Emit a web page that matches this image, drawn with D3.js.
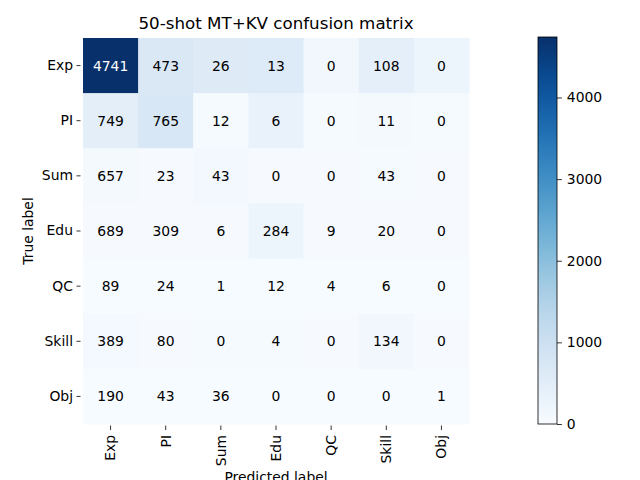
<!DOCTYPE html>
<html>
<head>
<meta charset="utf-8">
<script src="https://cdn.jsdelivr.net/npm/d3@7"></script>
<style>
  body { margin: 0; background: #fff; }
  text { font-family: "DejaVu Sans", sans-serif; fill: #000; }
</style>
</head>
<body>
<div id="chart"></div>
<script>
const labels = ["Exp", "PI", "Sum", "Edu", "QC", "Skill", "Obj"];

// counts written in the cells
const counts = [
  [4741, 473, 26, 13, 0, 108, 0],
  [749, 765, 12, 6, 0, 11, 0],
  [657, 23, 43, 0, 0, 43, 0],
  [689, 309, 6, 284, 9, 20, 0],
  [89, 24, 1, 12, 4, 6, 0],
  [389, 80, 0, 4, 0, 134, 0],
  [190, 43, 36, 0, 0, 0, 1]
];

// shade of each cell
const shades = [
  [4741, 700, 600, 620, 140, 430, 250],
  [470, 750, 50, 330, 50, 60, 40],
  [70, 20, 110, 20, 20, 40, 30],
  [20, 20, 20, 250, 20, 20, 20],
  [15, 15, 15, 15, 15, 15, 15],
  [90, 20, 50, 50, 20, 140, 20],
  [15, 15, 15, 15, 15, 15, 15]
];

const cbarTicks = [0, 1000, 2000, 3000, 4000];
const vmax = 4741;

const svg = d3.select("#chart")
  .append("svg")
  .attr("width", 640)
  .attr("height", 480);

const mLeft = 83, mTop = 38, size = 386;

const x = d3.scaleBand().domain(labels).range([mLeft, mLeft + size]);
const y = d3.scaleBand().domain(labels).range([mTop, mTop + size]);
const color = d3.scaleSequential(d3.interpolateBlues).domain([0, vmax]);

const cells = [];
counts.forEach((row, i) => row.forEach((v, j) => {
  cells.push({ t: labels[i], p: labels[j], v: v, s: shades[i][j] });
}));

svg.selectAll("rect.cell")
  .data(cells)
  .enter()
  .append("rect")
  .attr("class", "cell")
  .attr("x", d => x(d.p))
  .attr("y", d => y(d.t))
  .attr("width", x.bandwidth() + 0.5)
  .attr("height", y.bandwidth() + 0.5)
  .attr("fill", d => color(d.s));

svg.selectAll("text.val")
  .data(cells)
  .enter()
  .append("text")
  .attr("class", "val")
  .attr("x", d => x(d.p) + x.bandwidth() / 2)
  .attr("y", d => y(d.t) + y.bandwidth() / 2)
  .attr("text-anchor", "middle")
  .attr("dominant-baseline", "central")
  .style("font-size", "13.9px")
  .style("fill", d => d.s > vmax / 2 ? "#fff" : "#000")
  .text(d => d.v);

// axes
const yAxis = svg.append("g")
  .attr("transform", `translate(${mLeft - 2.5},0)`)
  .call(d3.axisLeft(y).tickSize(4).tickPadding(3.5));
yAxis.select(".domain").remove();
yAxis.selectAll("text").style("font-size", "13.9px").style("font-family", "DejaVu Sans");
yAxis.selectAll("line").attr("stroke", "#000").attr("stroke-width", 0.8);

const xAxis = svg.append("g")
  .attr("transform", `translate(0,${mTop + size + 1.5})`)
  .call(d3.axisBottom(x).tickSize(4.5).tickPadding(3.5));
xAxis.select(".domain").remove();
xAxis.selectAll("line").attr("stroke", "#000").attr("stroke-width", 0.8);
xAxis.selectAll("text")
  .style("font-size", "13.9px")
  .style("font-family", "DejaVu Sans")
  .attr("transform", "rotate(-90)")
  .attr("text-anchor", "end")
  .attr("dy", "0.35em")
  .attr("x", -9.5)
  .attr("y", 0);

svg.append("text")
  .attr("x", mLeft + size / 2)
  .attr("y", 29)
  .attr("text-anchor", "middle")
  .style("font-size", "16.7px")
  .text("50-shot MT+KV confusion matrix");

svg.append("text")
  .attr("x", mLeft + size / 2)
  .attr("y", 481.5)
  .attr("text-anchor", "middle")
  .style("font-size", "13.9px")
  .text("Predicted label");

svg.append("text")
  .attr("transform", `translate(33,${mTop + size / 2}) rotate(-90)`)
  .attr("text-anchor", "middle")
  .style("font-size", "13.9px")
  .text("True label");

// colorbar
const cbX = 538, cbW = 19, cbTop = 37, cbBot = 424;
const cy = d3.scaleLinear().domain([0, vmax]).range([cbBot, cbTop]);

const defs = svg.append("defs");
const grad = defs.append("linearGradient")
  .attr("id", "cbgrad")
  .attr("x1", 0).attr("y1", 1).attr("x2", 0).attr("y2", 0);
d3.range(0, 1.0001, 0.05).forEach(t => {
  grad.append("stop").attr("offset", t).attr("stop-color", d3.interpolateBlues(t));
});

svg.append("rect")
  .attr("x", cbX)
  .attr("y", cbTop)
  .attr("width", cbW)
  .attr("height", cbBot - cbTop)
  .attr("fill", "url(#cbgrad)")
  .attr("stroke", "#000")
  .attr("stroke-width", 0.8);

const cAxis = svg.append("g")
  .attr("transform", `translate(${cbX + cbW},0)`)
  .call(d3.axisRight(cy).tickValues(cbarTicks).tickSize(4.9).tickPadding(4.9).tickFormat(d3.format("d")));
cAxis.select(".domain").remove();
cAxis.selectAll("line").attr("stroke", "#000").attr("stroke-width", 0.8);
cAxis.selectAll("text").style("font-size", "13.9px").style("font-family", "DejaVu Sans");
</script>
</body>
</html>
